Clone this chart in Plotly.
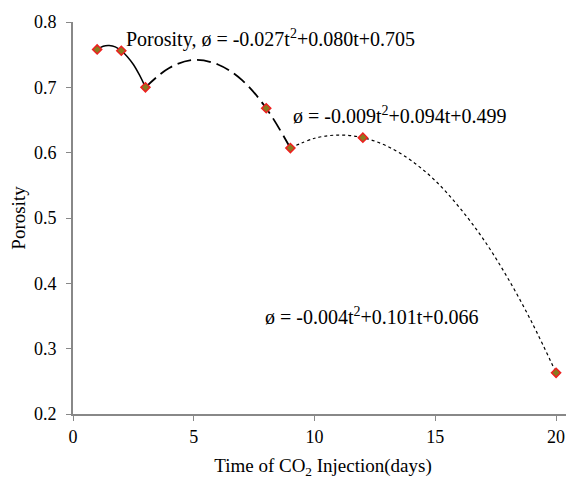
import plotly.graph_objects as go

# measured data points
time_days = [1, 2, 3, 8, 9, 12, 20]
porosity = [0.758, 0.756, 0.700, 0.668, 0.607, 0.623, 0.263]

# trend curves
seg1_t = [1, 1.25, 1.5, 1.75, 2, 2.25, 2.5, 2.75, 3]
seg1_p = [0.758, 0.763, 0.764, 0.762, 0.756, 0.747, 0.735, 0.719, 0.700]
seg2_t = [3, 4, 5, 6, 7, 8, 9]
seg2_p = [0.700, 0.730, 0.742, 0.735, 0.711, 0.668, 0.607]
seg3_t = [9, 10, 11, 12, 13, 14, 15, 16, 17, 18, 19, 20]
seg3_p = [0.607, 0.622, 0.627, 0.623, 0.610, 0.588, 0.557, 0.516, 0.467, 0.408, 0.340, 0.263]

x_ticks = [0, 5, 10, 15, 20]
y_ticks = [0.2, 0.3, 0.4, 0.5, 0.6, 0.7, 0.8]

font_family = "Liberation Serif"

fig = go.Figure()
fig.add_trace(go.Scatter(x=seg1_t, y=seg1_p, mode="lines", line=dict(color="black", width=1.5, shape="spline")))
fig.add_trace(go.Scatter(x=seg2_t, y=seg2_p, mode="lines", line=dict(color="black", width=1.8, dash="14px,6px", shape="spline")))
fig.add_trace(go.Scatter(x=seg3_t, y=seg3_p, mode="lines", line=dict(color="black", width=1.2, dash="dot", shape="spline")))
fig.add_trace(go.Scatter(x=time_days, y=porosity, mode="markers",
                         marker=dict(symbol="diamond", size=7, color="#8a7a20",
                                     line=dict(color="#ee2020", width=1.5))))

annos = [
    (2.11, 0.7755, "Porosity, ø = -0.027t<sup>2</sup>+0.080t+0.705"),
    (9.03, 0.6577, "ø = -0.009t<sup>2</sup>+0.094t+0.499"),
    (7.87, 0.350, "ø = -0.004t<sup>2</sup>+0.101t+0.066"),
]
for x, y, t in annos:
    fig.add_annotation(x=x, y=y, xref="x", yref="y", text=t, showarrow=False,
                       xanchor="left", yanchor="middle",
                       font=dict(family=font_family, size=20, color="black"))

fig.update_layout(
    width=566, height=471,
    margin=dict(l=65, r=1, t=14, b=65),
    paper_bgcolor="white", plot_bgcolor="white",
    showlegend=False,
    font=dict(family=font_family, size=18, color="black"),
    xaxis=dict(range=[0, 20.7], tickvals=x_ticks, showgrid=False, zeroline=False,
               automargin=False,
               showline=True, linecolor="#888888", linewidth=2,
               ticks="outside", ticklen=5, tickcolor="#888888",
               title=dict(text="Time of CO<sub>2</sub> Injection(days)", font=dict(family=font_family, size=19), standoff=20),
               tickfont=dict(family=font_family, size=18)),
    yaxis=dict(range=[0.2, 0.8], tickvals=y_ticks, tickformat=".1f", showgrid=False, zeroline=False,
               automargin=False,
               showline=True, linecolor="#888888", linewidth=2,
               ticks="outside", ticklen=5, tickcolor="#888888", ticklabelstandoff=6,
               title=dict(text="Porosity", font=dict(family=font_family, size=19), standoff=12),
               tickfont=dict(family=font_family, size=18)),
)

fig.write_html("out.html")
